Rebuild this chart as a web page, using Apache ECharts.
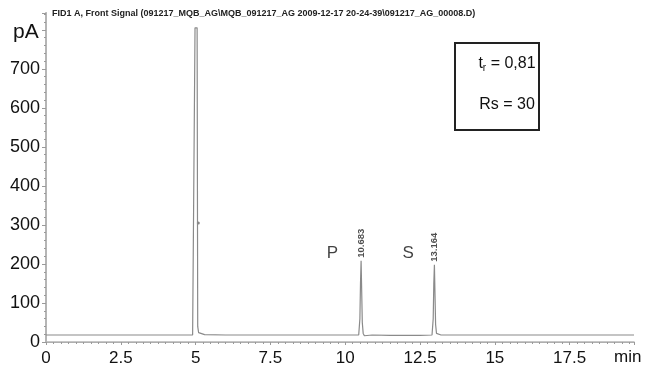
<!DOCTYPE html>
<html>
<head>
<meta charset="utf-8">
<script src="https://cdn.jsdelivr.net/npm/echarts@6/dist/echarts.min.js"></script>
<style>html,body{margin:0;padding:0;background:#fff;}#c{width:647px;height:369px;}</style>
</head>
<body>
<div id="c"></div>
<script>
// ---- data ----
var titleText = 'FID1 A, Front Signal (091217_MQB_AG\\MQB_091217_AG 2009-12-17 20-24-39\\091217_AG_00008.D)';
var times  = [0, 1, 2.5, 4, 4.9, 4.96, 4.98, 5.05, 5.07, 5.1, 5.15, 5.3, 6, 7.5, 9, 10.45, 10.49, 10.51, 10.53, 10.55, 10.57, 10.6, 10.64, 10.7, 10.9, 11.5, 12.5, 12.9, 12.94, 12.96, 12.98, 13.0, 13.02, 13.05, 13.1, 13.2, 14, 16, 18, 19.65];
var signal = [18, 18, 18, 18, 18, 18, 805, 805, 40, 24, 20, 19, 18, 18, 18, 18, 60, 150, 208, 130, 50, 22, 16, 17, 18, 17, 17, 18, 60, 150, 198, 120, 45, 22, 17, 18, 18, 18, 18, 18];
var peakTimes   = [10.53, 12.98];
var peakHeights = [208, 198];
var peakLabels  = ['10.683', '13.164'];
var compNames   = ['P', 'S'];
var compTimes   = [9.57, 12.1];
var compHeights = [228, 228];
var markerPoint = [5.09, 305];
var xTicks = [0, 2.5, 5, 7.5, 10, 12.5, 15, 17.5];
var yTicks = [0, 100, 200, 300, 400, 500, 600, 700];
var xMax = 19.65, yMax = 843;

var chart = echarts.init(document.getElementById('c'));
var FONT = 'Liberation Sans';
var axisGrey = '#9a9a9a';

chart.setOption({
  animation: false,
  backgroundColor: '#fff',
  title: {
    text: titleText, left: 50, top: 9,
    padding: [0, 2],
    backgroundColor: '#fff',
    textStyle: {fontSize: 9, fontWeight: 'bold', fontFamily: FONT, color: '#222'}
  },
  grid: {left: 46, right: 13, top: 13, bottom: 27},
  xAxis: [{
    type: 'value', min: 0, max: xMax, interval: 2.5, offset: 4,
    axisLine: {lineStyle: {color: axisGrey}},
    axisTick: {show: true, length: 3, lineStyle: {color: axisGrey}},
    minorTick: {show: true, splitNumber: 10, length: 2, lineStyle: {color: axisGrey}},
    splitLine: {show: false},
    axisLabel: {
      fontSize: 17, fontFamily: FONT, color: '#111', margin: 4, showMaxLabel: false,
      formatter: function (v) { return xTicks.indexOf(v) >= 0 ? String(v) : ''; }
    }
  }, {
    type: 'value', position: 'top', min: 0, max: xMax,
    axisLine: {show: true, lineStyle: {color: '#b5b5b5', width: 1.5}},
    axisTick: {show: false}, axisLabel: {show: false}, splitLine: {show: false}
  }],
  yAxis: [{
    type: 'value', min: 0, max: yMax, interval: 100,
    axisLine: {show: true, lineStyle: {color: axisGrey}},
    axisTick: {show: true, length: 4, lineStyle: {color: axisGrey}},
    minorTick: {show: true, splitNumber: 5, length: 2, lineStyle: {color: axisGrey}},
    splitLine: {show: false},
    axisLabel: {
      fontSize: 18, fontFamily: FONT, color: '#111', margin: 6, showMaxLabel: false,
      formatter: function (v) { return yTicks.indexOf(v) >= 0 ? String(v) : ''; }
    }
  }, {
    type: 'value', position: 'right', min: 0, max: yMax,
    axisLine: {show: true, lineStyle: {color: '#b5b5b5', width: 2}},
    axisTick: {show: false}, axisLabel: {show: false}, splitLine: {show: false}
  }],
  graphic: [
    {type: 'text', left: 13, top: 22, style: {text: 'pA', fontSize: 21, fontFamily: FONT, fill: '#111'}},
    {type: 'text', left: 614, top: 349, style: {text: 'min', fontSize: 17, fontFamily: FONT, fill: '#111'}},
    {type: 'rect', shape: {x: 455, y: 43, width: 84, height: 87}, style: {fill: '#fff', stroke: '#222', lineWidth: 2}},
    {type: 'text', x: 507, y: 64, style: {
      text: 't{sub|r} = 0,81', align: 'center', verticalAlign: 'middle',
      fontSize: 16, fontFamily: FONT, fill: '#111',
      rich: {sub: {fontSize: 10, fontFamily: FONT, fill: '#111', padding: [8, 0, 0, 0]}}
    }},
    {type: 'text', x: 507, y: 105, style: {
      text: 'Rs = 30', align: 'center', verticalAlign: 'middle',
      fontSize: 16, fontFamily: FONT, fill: '#111'
    }}
  ],
  series: [{
    type: 'line',
    data: times.map(function (t, i) { return [t, signal[i]]; }),
    symbol: 'none',
    lineStyle: {color: '#8a8a8a', width: 1.2},
    z: 3
  }, {
    type: 'scatter',
    data: peakTimes.map(function (t, i) { return {value: [t, peakHeights[i]], label: {formatter: peakLabels[i]}}; }),
    symbolSize: 0,
    label: {
      show: true, position: 'top', rotate: 90, align: 'left', verticalAlign: 'middle', distance: 3,
      fontSize: 9.5, fontWeight: 'bold', fontFamily: FONT, color: '#222'
    }
  }, {
    type: 'scatter',
    data: compTimes.map(function (t, i) { return {value: [t, compHeights[i]], label: {formatter: compNames[i]}}; }),
    symbolSize: 0,
    label: {
      show: true, position: 'inside', align: 'center', verticalAlign: 'middle',
      fontSize: 17, fontFamily: FONT, color: '#111'
    }
  }, {
    type: 'scatter',
    data: [markerPoint],
    symbolSize: 3,
    itemStyle: {color: '#666'}
  }]
});
</script>
</body>
</html>
